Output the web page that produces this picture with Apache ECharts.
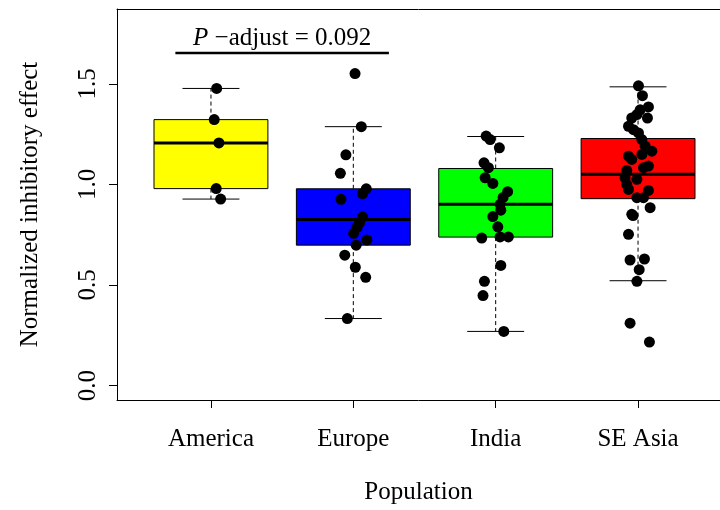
<!DOCTYPE html>
<html>
<head>
<meta charset="utf-8">
<script src="https://cdn.jsdelivr.net/npm/echarts@6/dist/echarts.min.js"></script>
<style>
  html, body { margin: 0; padding: 0; background: #fff; }
  #chart { width: 720px; height: 510px; }
</style>
</head>
<body>
<div id="chart"></div>
<script>
// Populations on the x axis
const categories = ['America', 'Europe', 'India', 'SE Asia'];
const boxColors = ['#ffff00', '#0000ff', '#00ff00', '#ff0000'];

// Box statistics per population: [lower whisker, Q1, median, Q3, upper whisker]
const americaBox = [0.927, 0.979, 1.206, 1.322, 1.477];
const europeBox  = [0.333, 0.698, 0.825, 0.978, 1.287];
const indiaBox   = [0.269, 0.738, 0.901, 1.079, 1.238];
const seAsiaBox  = [0.521, 0.929, 1.050, 1.228, 1.485];

// Individual measurements and their horizontal jitter (in category units)
const americaValues = [1.477, 1.322, 1.206, 0.979, 0.927];
const americaJitter = [0.040, 0.023, 0.056, 0.037, 0.068];

const europeValues = [1.551, 1.287, 1.147, 1.055, 0.978, 0.954, 0.926, 0.838, 0.810,
                      0.786, 0.757, 0.724, 0.698, 0.648, 0.588, 0.538, 0.333];
const europeJitter = [0.012, 0.056, -0.052, -0.091, 0.091, 0.065, -0.087, 0.065, 0.044,
                      0.026, 0.002, 0.095, 0.020, -0.060, 0.014, 0.087, -0.042];

const indiaValues = [1.240, 1.223, 1.182, 1.107, 1.083, 1.033, 1.005, 0.964, 0.935, 0.901,
                     0.872, 0.840, 0.789, 0.739, 0.739, 0.733, 0.597, 0.518, 0.447, 0.269];
const indiaJitter = [-0.067, -0.039, 0.026, -0.082, -0.051, -0.074, -0.020, 0.084, 0.052, 0.031,
                     0.036, -0.020, 0.015, 0.031, 0.089, -0.098, 0.036, -0.079, -0.089, 0.057];

const seAsiaValues = [1.490, 1.441, 1.385, 1.371, 1.347, 1.330, 1.330, 1.289, 1.272, 1.256,
                      1.223, 1.190, 1.165, 1.149, 1.140, 1.124, 1.091, 1.083, 1.069, 1.033,
                      1.025, 1.000, 0.975, 0.970, 0.934, 0.934, 0.884, 0.851, 0.845, 0.752,
                      0.629, 0.624, 0.576, 0.518, 0.310, 0.216];
const seAsiaJitter = [0.003, 0.031, 0.073, 0.015, -0.008, 0.066, -0.044, -0.067, -0.032, 0.003,
                      0.027, 0.050, 0.097, 0.027, -0.067, -0.044, 0.073, 0.038, -0.079, -0.091,
                      -0.008, -0.079, -0.067, 0.073, -0.008, 0.038, 0.085, -0.044, -0.035, -0.067,
                      0.045, -0.056, 0.008, -0.008, -0.056, 0.080];

// Axis ticks
const yTicks = [0, 0.5, 1.0, 1.5];
const xTicks = [1, 2, 3, 4];

// Pairwise comparison shown above America and Europe
const comparison = { from: 1, to: 2, level: 1.653, pValue: '0.092' };

const FONT = '"Liberation Serif", "DejaVu Serif", serif';

// The panel spans 0.34..4.66 over 615px; the canvas cuts it off at its right edge,
// so the visible part of the x range ends a little before 4.66.
const PANEL_LEFT = 117;
const X_MIN = 0.34;
const X_PER_PX = (4.66 - 0.34) / 615;
const X_MAX = X_MIN + (720 - PANEL_LEFT) * X_PER_PX;

const boxes = [americaBox, europeBox, indiaBox, seAsiaBox];
const boxData = boxes.map((s, k) => [k + 1, ...s]);

const groups = [
  [americaValues, americaJitter],
  [europeValues, europeJitter],
  [indiaValues, indiaJitter],
  [seAsiaValues, seAsiaJitter]
];
const pointData = [];
groups.forEach(([vals, jit], k) => {
  vals.forEach((v, j) => pointData.push([k + 1 + jit[j], v]));
});

const chart = echarts.init(document.getElementById('chart'), null, { renderer: 'canvas' });

const axisLine = { show: true, onZero: false, lineStyle: { color: '#000', width: 1 } };

chart.setOption({
  animation: false,
  backgroundColor: '#fff',
  grid: { left: PANEL_LEFT, top: 9, right: 0, height: 393, show: false },
  xAxis: [
    {
      type: 'value', min: X_MIN, max: X_MAX,
      splitLine: { show: false },
      axisLine: axisLine,
      axisTick: { show: true, customValues: xTicks, length: 8, lineStyle: { color: '#000' } },
      axisLabel: {
        customValues: xTicks, hideOverlap: false,
        formatter: v => categories[Math.round(v) - 1] || '',
        color: '#000', fontFamily: FONT, fontSize: 25, margin: 27
      },
      name: 'Population', nameLocation: 'middle', nameGap: 80,
      nameTextStyle: { color: '#000', fontFamily: FONT, fontSize: 25 }
    },
    {
      // top edge of the plotting frame
      type: 'value', position: 'top', min: X_MIN, max: X_MAX,
      splitLine: { show: false },
      axisLine: axisLine,
      axisTick: { show: false },
      axisLabel: { show: false }
    }
  ],
  yAxis: {
    type: 'value', min: -0.072, max: 1.872,
    splitLine: { show: false },
    axisLine: axisLine,
    axisTick: { show: true, customValues: yTicks, length: 8, lineStyle: { color: '#000' } },
    axisLabel: {
      customValues: yTicks, rotate: 90,
      formatter: v => v.toFixed(1),
      color: '#000', fontFamily: FONT, fontSize: 25, margin: 16
    },
    name: 'Normalized inhibitory effect', nameLocation: 'middle', nameGap: 74,
    nameTextStyle: { color: '#000', fontFamily: FONT, fontSize: 25 }
  },
  series: [
    {
      type: 'custom',
      data: boxData,
      z: 2,
      renderItem: (params, api) => {
        const x = api.value(0);
        const lo = api.value(1), q1 = api.value(2), med = api.value(3), q3 = api.value(4), hi = api.value(5);
        const c = api.coord([x, med]);
        const left = api.coord([x - 0.4, q3]);
        const right = api.coord([x + 0.4, q1]);
        const capL = api.coord([x - 0.2, lo])[0];
        const capR = api.coord([x + 0.2, lo])[0];
        const yLo = api.coord([x, lo])[1];
        const yHi = api.coord([x, hi])[1];
        const yQ1 = right[1], yQ3 = left[1];
        const dashed = { stroke: '#000', lineWidth: 1, lineDash: [4, 3] };
        const solid = { stroke: '#000', lineWidth: 1 };
        return {
          type: 'group',
          children: [
            { type: 'rect', shape: { x: left[0], y: yQ3, width: right[0] - left[0], height: yQ1 - yQ3 },
              style: { fill: boxColors[params.dataIndex], stroke: '#000', lineWidth: 1 } },
            { type: 'line', shape: { x1: left[0], y1: c[1], x2: right[0], y2: c[1] },
              style: { stroke: '#000', lineWidth: 3 } },
            { type: 'line', shape: { x1: c[0], y1: yQ1, x2: c[0], y2: yLo }, style: dashed },
            { type: 'line', shape: { x1: c[0], y1: yQ3, x2: c[0], y2: yHi }, style: dashed },
            { type: 'line', shape: { x1: capL, y1: yLo, x2: capR, y2: yLo }, style: solid },
            { type: 'line', shape: { x1: capL, y1: yHi, x2: capR, y2: yHi }, style: solid }
          ]
        };
      }
    },
    {
      type: 'scatter',
      data: pointData,
      z: 3,
      symbol: 'circle',
      symbolSize: 11,
      itemStyle: { color: '#000', opacity: 1 }
    },
    {
      type: 'custom',
      data: [[comparison.from, comparison.to, comparison.level]],
      z: 4,
      renderItem: (params, api) => {
        const a = api.coord([api.value(0) - 0.25, api.value(2)]);
        const b = api.coord([api.value(1) + 0.25, api.value(2)]);
        return {
          type: 'group',
          children: [
            { type: 'line', shape: { x1: a[0], y1: a[1], x2: b[0], y2: b[1] },
              style: { stroke: '#000', lineWidth: 2.5 } },
            { type: 'text',
              style: {
                x: (a[0] + b[0]) / 2, y: a[1] - 2,
                text: '{i|P} \u2212adjust = ' + comparison.pValue,
                align: 'center', verticalAlign: 'bottom',
                fill: '#000', fontFamily: FONT, fontSize: 25,
                rich: { i: { fontStyle: 'italic', fontFamily: FONT, fontSize: 25, fill: '#000' } }
              } }
          ]
        };
      }
    }
  ]
});
</script>
</body>
</html>
